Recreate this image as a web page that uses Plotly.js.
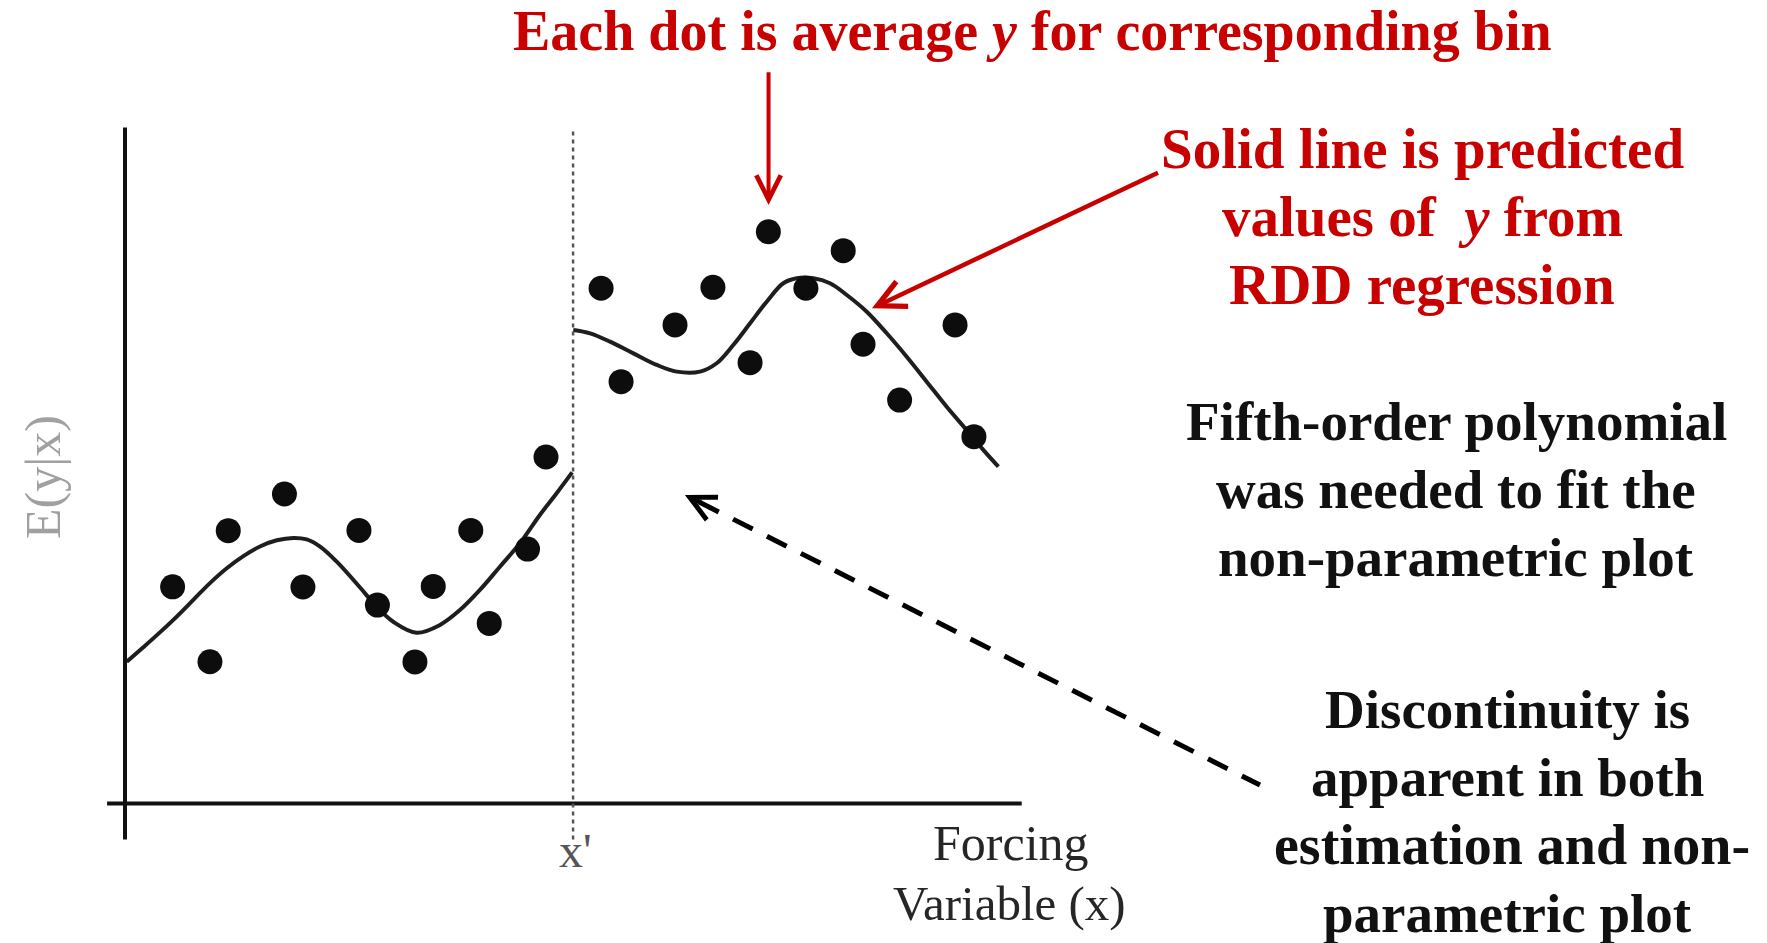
<!DOCTYPE html>
<html>
<head>
<meta charset="utf-8">
<script src="https://cdn.plot.ly/plotly-3.0.1.min.js"></script>
<style>
  html, body { margin: 0; padding: 0; background: #ffffff; }
  #chart { width: 1767px; height: 943px; }
</style>
</head>
<body>
<div id="chart"></div>
<script>
// ---------- data (forcing variable units, outcome units) ----------
const cutoff = 24;

const leftBinX = [2.55, 4.55, 5.53, 8.54, 9.53, 12.53, 13.52, 15.53, 16.51, 18.52, 19.51, 21.56, 22.55];
const leftBinY = [11.65, 7.62, 14.67, 16.64, 11.64, 14.68, 10.67, 7.61, 11.67, 14.68, 9.68, 13.68, 18.63];

const rightBinX = [25.50, 26.57, 29.46, 31.49, 33.48, 34.46, 36.47, 38.47, 39.53, 41.49, 44.46, 45.47];
const rightBinY = [27.70, 22.68, 25.73, 27.75, 23.70, 30.74, 27.70, 29.72, 24.69, 21.69, 25.73, 19.72];

const leftFitX = [0.09, 0.98, 1.87, 2.77, 3.66, 4.55, 5.45, 6.34, 7.23, 8.13, 9.01, 9.73, 10.45, 11.34, 12.59, 13.48, 14.37, 15.62, 16.87, 17.94, 19.01, 20.08, 21.15, 22.22, 23.12, 23.95];
const leftFitY = [7.62, 8.40, 9.20, 10.05, 10.95, 11.85, 12.65, 13.30, 13.82, 14.15, 14.28, 14.20, 13.81, 13.00, 11.61, 10.58, 9.77, 9.18, 9.60, 10.40, 11.48, 12.73, 13.99, 15.51, 16.68, 17.80];

const rightFitX = [24.01, 24.91, 25.98, 27.23, 28.48, 29.55, 30.80, 31.69, 32.58, 33.48, 34.37, 35.26, 35.98, 36.87, 37.76, 38.66, 39.73, 40.80, 41.87, 42.94, 44.01, 45.08, 45.97, 46.78];
const rightFitY = [25.46, 25.28, 24.83, 24.20, 23.58, 23.22, 23.22, 23.67, 24.65, 25.82, 26.98, 27.97, 28.24, 28.24, 27.97, 27.34, 26.44, 25.28, 24.02, 22.68, 21.33, 20.08, 19.01, 18.11];

const xAxisLabel = ["Forcing", "Variable (x)"];
const yAxisLabel = "E(y|x)";
const cutoffLabel = "x'";

const noteTop = "Each dot is average <i>y</i> for corresponding bin";
const noteRed = ["Solid line is predicted", "values of  <i>y</i> from", "RDD regression"];
const noteFifth = ["Fifth-order polynomial", "was needed to fit the", "non-parametric plot"];
const noteDisc = ["Discontinuity is", "apparent in both", "estimation and non-", "parametric plot"];

// ---------- layout helpers ----------
const W = 1767, H = 943;
const RED = '#c80000';
const SERIF = 'Liberation Serif, Times New Roman, serif';
const px = (x, y) => ({ x: x / W, y: 1 - y / H });

function textNote(text, cx, cy, size, color, bold, angle) {
  const p = px(cx, cy);
  return {
    xref: 'paper', yref: 'paper', x: p.x, y: p.y,
    xanchor: 'center', yanchor: 'middle',
    text: text, showarrow: false, textangle: angle || 0,
    font: { family: SERIF, size: size, color: color, weight: bold ? 'bold' : 'normal' }
  };
}

const traces = [
  { x: leftFitX, y: leftFitY, type: 'scatter', mode: 'lines',
    line: { color: '#1e1e1e', width: 4, shape: 'spline', smoothing: 1 }, hoverinfo: 'skip' },
  { x: rightFitX, y: rightFitY, type: 'scatter', mode: 'lines',
    line: { color: '#1e1e1e', width: 4, shape: 'spline', smoothing: 1 }, hoverinfo: 'skip' },
  { x: leftBinX, y: leftBinY, type: 'scatter', mode: 'markers',
    marker: { color: '#0d0d0d', size: 25 }, hoverinfo: 'skip' },
  { x: rightBinX, y: rightBinY, type: 'scatter', mode: 'markers',
    marker: { color: '#0d0d0d', size: 25 }, hoverinfo: 'skip' }
];

const annotations = [
  textNote(noteTop, 1032, 31, 56, RED, true),
  textNote(noteRed[0], 1422, 148, 57, RED, true),
  textNote(noteRed[1], 1422, 216, 57, RED, true),
  textNote(noteRed[2], 1422, 284, 57, RED, true),
  textNote(noteFifth[0], 1456, 421, 55, '#111', true),
  textNote(noteFifth[1], 1456, 489, 55, '#111', true),
  textNote(noteFifth[2], 1456, 557, 55, '#111', true),
  textNote(noteDisc[0], 1507, 709, 55, '#111', true),
  textNote(noteDisc[1], 1507, 777, 55, '#111', true),
  textNote(noteDisc[2], 1512, 845, 56, '#111', true),
  textNote(noteDisc[3], 1507, 913, 55, '#111', true),
  textNote(yAxisLabel, 43, 477, 50, '#a0a0a0', false, -90),
  textNote(cutoffLabel, 575, 850, 48, '#555555', false),
  textNote(xAxisLabel[0], 1011, 843, 50, '#262626', false),
  textNote(xAxisLabel[1], 1010, 903, 49, '#262626', false),
  // red arrow to top dot
  { xref: 'x', yref: 'y', axref: 'x', ayref: 'y', x: 34.47, y: 32.18, ax: 34.47, ay: 39.40,
    text: '', showarrow: true, arrowhead: 5, arrowsize: 1.2, arrowwidth: 4, arrowcolor: RED, standoff: 0 },
  // red arrow to fitted line
  { xref: 'x', yref: 'y', axref: 'x', ayref: 'y', x: 40.01, y: 26.62, ax: 55.41, ay: 33.95,
    text: '', showarrow: true, arrowhead: 5, arrowsize: 1.2, arrowwidth: 4.5, arrowcolor: RED, standoff: 0 },
  // black head of dashed arrow
  { xref: 'x', yref: 'y', axref: 'x', ayref: 'y', x: 29.99, y: 16.59, ax: 30.95, ay: 16.11,
    text: '', showarrow: true, arrowhead: 5, arrowsize: 1.1, arrowwidth: 4.5, arrowcolor: '#000', standoff: 0 }
];

const shapes = [
  { type: 'line', xref: 'x', yref: 'y', x0: 0, x1: 0, y0: -1.94, y1: 36.35,
    line: { color: '#111', width: 4 } },
  { type: 'line', xref: 'x', yref: 'y', x0: -0.96, x1: 48.03, y0: 0, y1: 0,
    line: { color: '#111', width: 4 } },
  { type: 'line', xref: 'x', yref: 'y', x0: cutoff, x1: cutoff, y0: -1.94, y1: 36.2,
    line: { color: '#555', width: 2.5, dash: '4px,4px' } },
  { type: 'line', xref: 'x', yref: 'y', x0: 30.75, x1: 60.79, y0: 16.21, y1: 0.99,
    line: { color: '#000', width: 5, dash: '22px,16px' } }
];

const layout = {
  width: W, height: H,
  margin: { l: 0, r: 0, t: 0, b: 0, pad: 0 },
  paper_bgcolor: '#ffffff', plot_bgcolor: '#ffffff',
  showlegend: false,
  xaxis: { range: [-125 / 18.67, (W - 125) / 18.67], visible: false, showgrid: false, zeroline: false, fixedrange: true },
  yaxis: { range: [-(H - 803.5) / 18.6, 803.5 / 18.6], visible: false, showgrid: false, zeroline: false, fixedrange: true },
  shapes: shapes,
  annotations: annotations,
  hovermode: false
};

Plotly.newPlot('chart', traces, layout, { displayModeBar: false, staticPlot: true });
</script>
</body>
</html>
